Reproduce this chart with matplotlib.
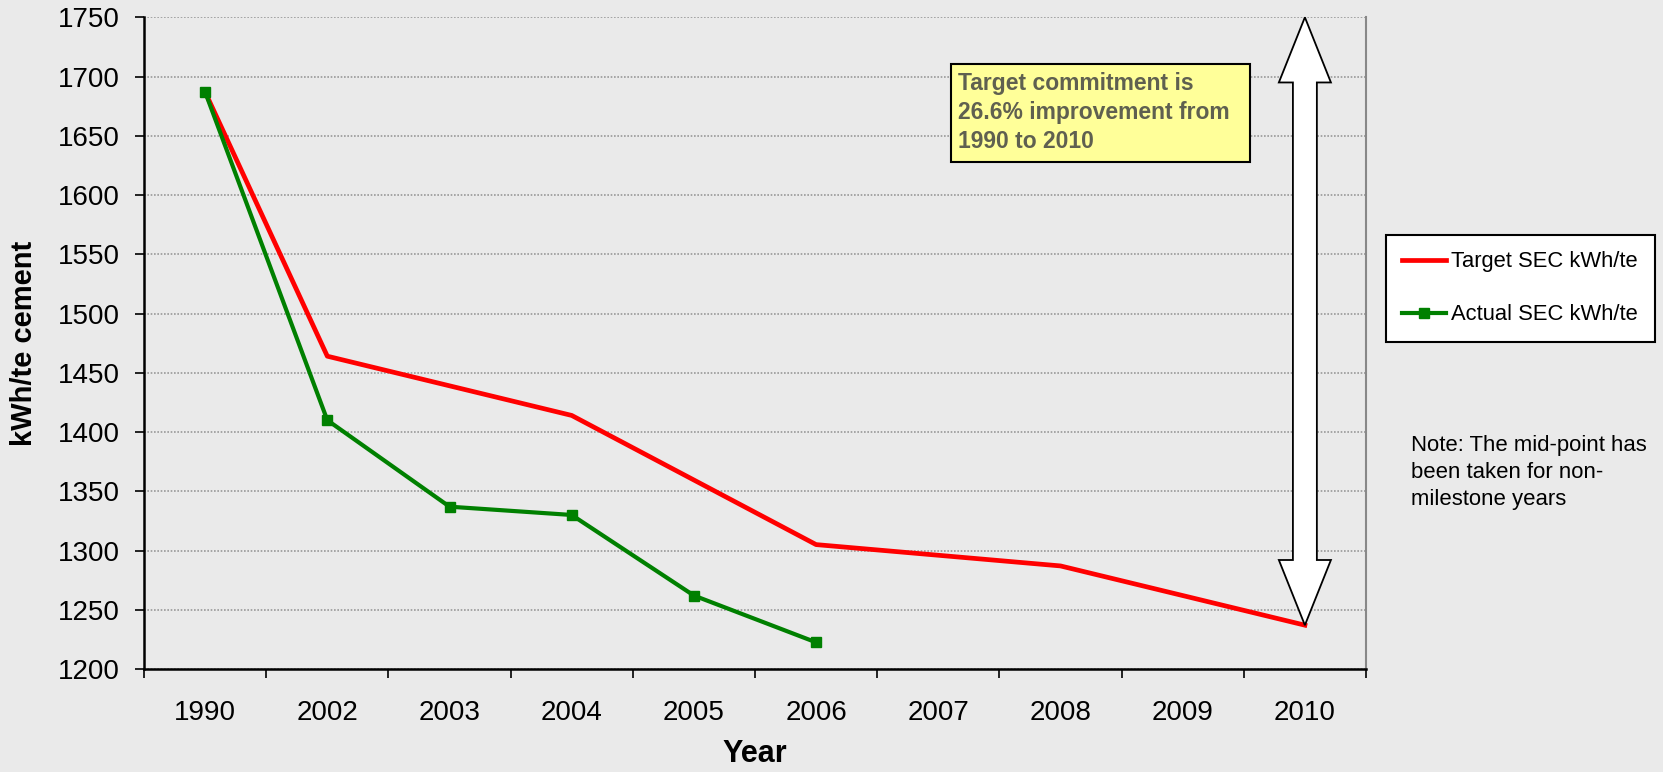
import numpy as np
import matplotlib
matplotlib.use("Agg")
import matplotlib.pyplot as plt
from matplotlib.patches import Polygon, Rectangle

plt.rcParams['font.family'] = ['Liberation Sans', 'DejaVu Sans']

# data
years = ['1990', '2002', '2003', '2004', '2005', '2006', '2007', '2008', '2009', '2010']
target_sec = [1687, 1464, 1439, 1414, 1359.5, 1305, 1296, 1287, 1262, 1237]
actual_sec = [1687, 1410, 1337, 1330, 1262, 1222.5]

bg = '#EAEAEA'
fig = plt.figure(figsize=(16.63, 7.72), dpi=100, facecolor=bg)
ax = fig.add_axes([0.0866, 0.1334, 0.8214 - 0.0866, 0.9776 - 0.1334])
ax.set_facecolor(bg)

x = np.arange(len(years))
ax.plot(x, target_sec, color='#FF0000', lw=3.4, label='Target SEC kWh/te', zorder=3)
ax.plot(x[:len(actual_sec)], actual_sec, color='#008000', lw=3.0, marker='s',
        markersize=7.5, label='Actual SEC kWh/te', zorder=4)

ax.set_xlim(-0.5, len(years) - 0.5)
ax.set_ylim(1200, 1750)
ax.set_yticks(np.arange(1200, 1751, 50))
ax.set_xticks(x)
ax.set_xticklabels(years)
ax.set_xticks(np.arange(-0.5, len(years), 1), minor=True)
ax.tick_params(axis='x', which='major', length=0, pad=22, labelsize=20)
ax.tick_params(axis='x', which='minor', length=6.5, width=1.2, color='black', direction='out')
ax.tick_params(axis='y', length=6.5, width=1.2, labelsize=20, pad=11, direction='out')
ax.yaxis.grid(True, color='#999999', linestyle=(0, (1, 1)), lw=1.2)
ax.set_axisbelow(True)

ax.spines['top'].set_visible(False)
ax.spines['right'].set_color('#888888')
ax.spines['right'].set_linewidth(1.5)
ax.spines['left'].set_linewidth(1.8)
ax.spines['bottom'].set_linewidth(1.8)

ax.set_ylabel('kWh/te cement', fontsize=21, fontweight='bold', labelpad=14)
ax.set_xlabel('Year', fontsize=22, fontweight='bold', labelpad=10)

# double headed block arrow at 2010
xa = 9
bw, hw, hl = 0.098, 0.213, 55
top, bot = 1750, target_sec[-1]
pts = [(xa, top), (xa + hw, top - hl), (xa + bw, top - hl), (xa + bw, bot + hl),
       (xa + hw, bot + hl), (xa, bot), (xa - hw, bot + hl), (xa - bw, bot + hl),
       (xa - bw, top - hl), (xa - hw, top - hl)]
ax.add_patch(Polygon(pts, closed=True, facecolor='white', edgecolor='black',
                     lw=1.3, zorder=5, clip_on=False))

# yellow note box
ax.add_patch(Rectangle((6.104, 1628), 8.55 - 6.104, 1710.6 - 1628, facecolor='#FFFF99',
                       edgecolor='black', lw=1.5, zorder=6))
ax.text(6.165, 1704, 'Target commitment is\n26.6% improvement from\n1990 to 2010',
        fontsize=16.5, fontweight='bold', color='#5F6050', va='top', ha='left',
        linespacing=1.33, zorder=7)

leg = ax.legend(loc='upper left', bbox_to_anchor=(1.0161, 0.666), fontsize=15.8,
                frameon=True, fancybox=False, edgecolor='black', facecolor='white',
                framealpha=1, handlelength=2.0, handletextpad=0.25, labelspacing=1.45,
                borderpad=0.75, borderaxespad=0)
leg.get_frame().set_linewidth(1.5)

fig.text(0.8483, 0.4365, 'Note: The mid-point has\nbeen taken for non-\nmilestone years',
         fontsize=15.9, va='top', ha='left', linespacing=1.38)

fig.savefig('out.png', dpi=100, facecolor=bg)
